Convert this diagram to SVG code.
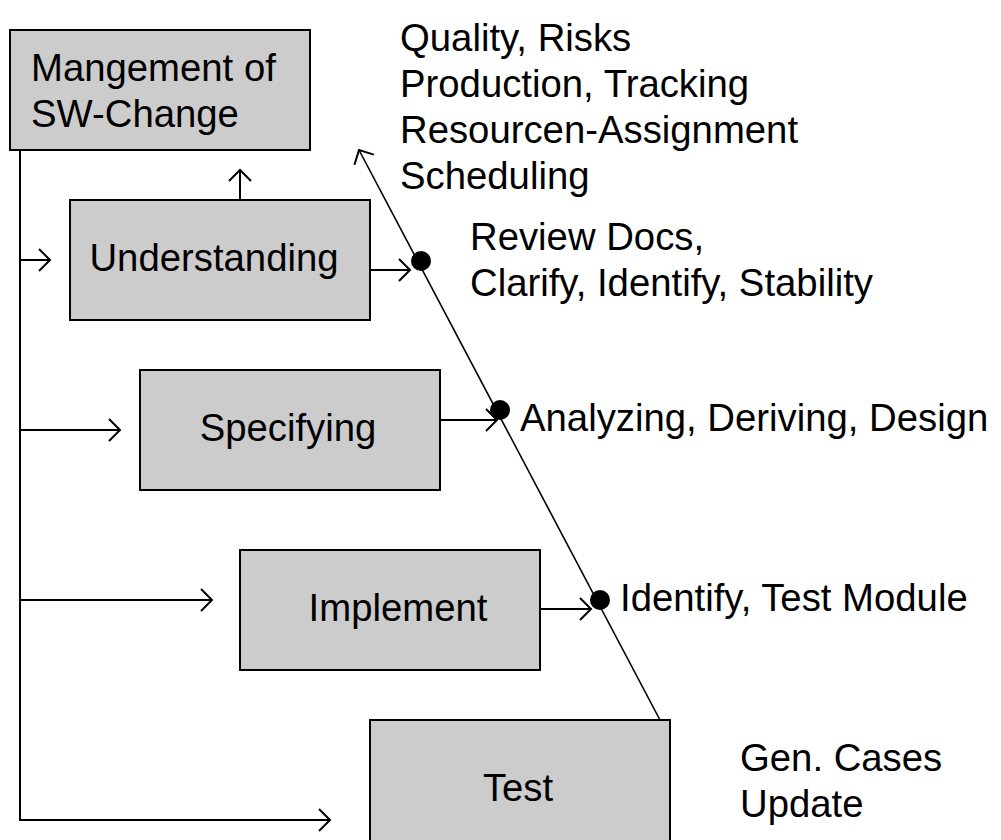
<svg xmlns="http://www.w3.org/2000/svg" width="1001" height="840" viewBox="0 0 1001 840">
<style>
.box{fill:#cccccc;stroke:#000;stroke-width:2}
.t{font-family:"Liberation Sans",Arial,Helvetica,sans-serif;font-size:38.3px;fill:#000}
.c{fill:none;stroke:#000;stroke-width:2}
.d{fill:none;stroke:#000;stroke-width:1.6}
</style>
<defs>
<marker id="ah" markerUnits="userSpaceOnUse" markerWidth="24" markerHeight="24" viewBox="-12 -12 24 24" refX="0" refY="0" orient="auto">
<path d="M-11,-11 L0,0 L-11,11" fill="none" stroke="#000" stroke-width="2"/>
</marker>
</defs>
<rect width="1001" height="840" fill="#fff"/>
<g id="connectors">
<path class="c" d="M20,150 V820 H330" marker-end="url(#ah)"/>
<line class="c" x1="20" y1="260" x2="50" y2="260" marker-end="url(#ah)"/>
<line class="c" x1="20" y1="430" x2="120" y2="430" marker-end="url(#ah)"/>
<line class="c" x1="20" y1="600" x2="212" y2="600" marker-end="url(#ah)"/>
<line class="c" x1="240" y1="200" x2="240" y2="170" marker-end="url(#ah)"/>
<line class="c" x1="370" y1="270" x2="410" y2="270" marker-end="url(#ah)"/>
<line class="c" x1="440" y1="420" x2="497" y2="420" marker-end="url(#ah)"/>
<line class="c" x1="540" y1="609" x2="591" y2="609" marker-end="url(#ah)"/>
<line class="d" x1="660" y1="720" x2="359" y2="150" marker-end="url(#ah)"/>
<circle cx="421" cy="261" r="10" fill="#000"/>
<circle cx="500" cy="410" r="10" fill="#000"/>
<circle cx="600" cy="600" r="10" fill="#000"/>
</g>
<g id="management">
<rect class="box" x="10" y="30" width="300" height="120"/>
<text class="t" x="31" y="81">Mangement of</text>
<text class="t" x="31" y="127">SW-Change</text>
</g>
<g id="understanding">
<rect class="box" x="70" y="200" width="300" height="120"/>
<text class="t" x="214" y="271" text-anchor="middle">Understanding</text>
</g>
<g id="specifying">
<rect class="box" x="140" y="370" width="300" height="120"/>
<text class="t" x="288" y="441" text-anchor="middle">Specifying</text>
</g>
<g id="implement">
<rect class="box" x="240" y="550" width="300" height="120"/>
<text class="t" x="398" y="621" text-anchor="middle">Implement</text>
</g>
<g id="test">
<rect class="box" x="370" y="720" width="300" height="125"/>
<text class="t" x="518" y="801" text-anchor="middle">Test</text>
</g>
<g id="labels">
<text class="t" x="400" y="51">Quality, Risks</text>
<text class="t" x="400" y="97">Production, Tracking</text>
<text class="t" x="400" y="143">Resourcen-Assignment</text>
<text class="t" x="400" y="189">Scheduling</text>
<text class="t" x="470" y="250">Review Docs,</text>
<text class="t" x="470" y="296">Clarify, Identify, Stability</text>
<text class="t" x="520" y="431">Analyzing, Deriving, Design</text>
<text class="t" x="620" y="611">Identify, Test Module</text>
<text class="t" x="740" y="771">Gen. Cases</text>
<text class="t" x="740" y="817">Update</text>
</g>
</svg>
